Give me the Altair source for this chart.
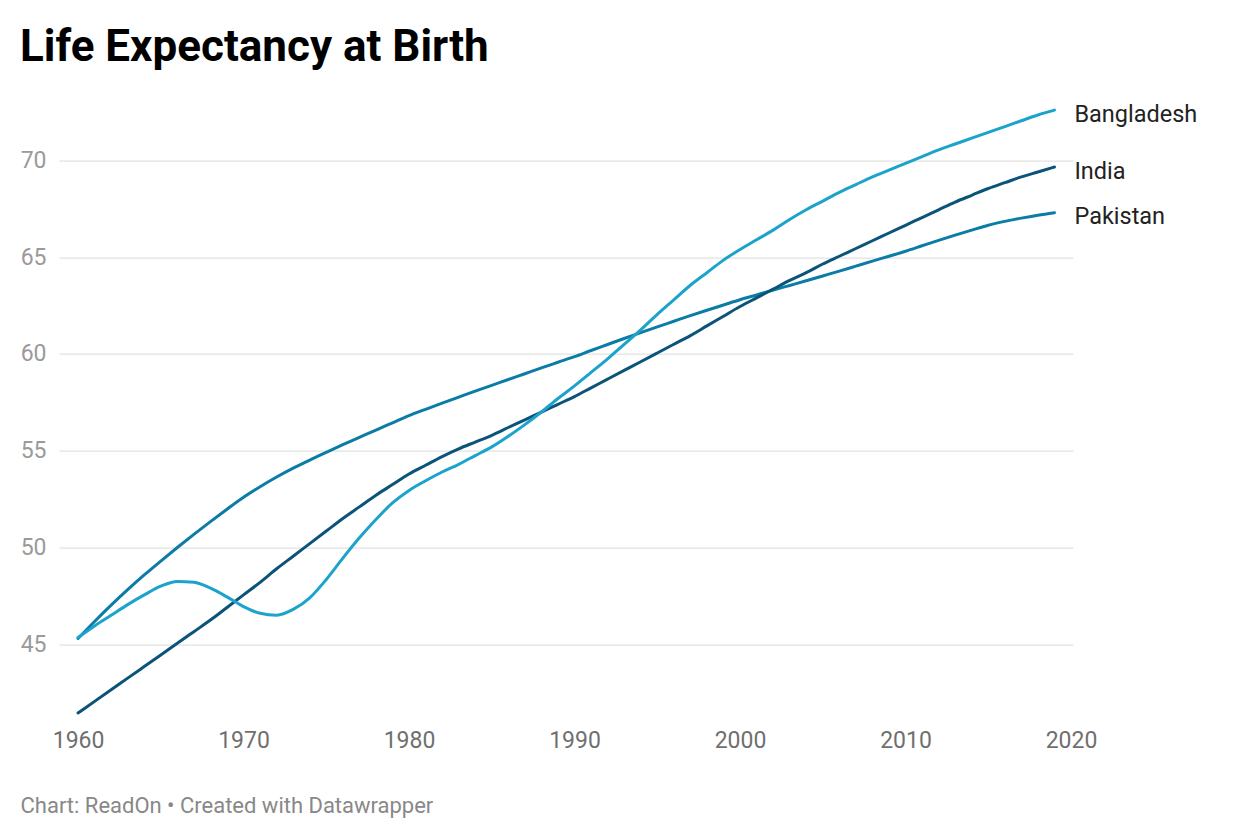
import altair as alt
import pandas as pd

years = list(range(1960, 2020))

bangladesh = [
    45.35, 45.95, 46.5, 47.05, 47.55, 48.0, 48.25, 48.2, 47.9, 47.45,
    46.95, 46.6, 46.5, 46.8, 47.4, 48.35, 49.45, 50.5, 51.45, 52.3,
    52.95, 53.45, 53.9, 54.3, 54.75, 55.2, 55.75, 56.35, 57.0, 57.7,
    58.35, 59.05, 59.75, 60.5, 61.25, 62.05, 62.8, 63.55, 64.2, 64.85,
    65.4, 65.9, 66.4, 66.95, 67.45, 67.9, 68.35, 68.75, 69.15, 69.5,
    69.85, 70.2, 70.55, 70.85, 71.15, 71.45, 71.75, 72.05, 72.35, 72.6,
]

india = [
    41.45, 42.05, 42.65, 43.25, 43.85, 44.45, 45.05, 45.65, 46.25, 46.9,
    47.55, 48.2, 48.9, 49.55, 50.2, 50.85, 51.5, 52.1, 52.7, 53.25,
    53.8, 54.25, 54.7, 55.1, 55.45, 55.8, 56.2, 56.6, 57.0, 57.4,
    57.8, 58.25, 58.7, 59.15, 59.6, 60.05, 60.5, 60.95, 61.45, 61.95,
    62.45, 62.9, 63.35, 63.8, 64.2, 64.65, 65.05, 65.45, 65.85, 66.25,
    66.65, 67.05, 67.45, 67.85, 68.2, 68.55, 68.85, 69.15, 69.4, 69.66,
]

pakistan = [
    45.3, 46.18, 47.02, 47.82, 48.58, 49.3, 50.0, 50.68, 51.34, 51.98,
    52.6, 53.14, 53.64, 54.1, 54.52, 54.92, 55.31, 55.69, 56.07, 56.44,
    56.81, 57.14, 57.46, 57.77, 58.08, 58.38, 58.68, 58.98, 59.28, 59.57,
    59.86, 60.18, 60.49, 60.8, 61.1, 61.4, 61.69, 61.98, 62.26, 62.53,
    62.8, 63.05, 63.3, 63.54, 63.78, 64.03, 64.28, 64.54, 64.8, 65.05,
    65.31, 65.59, 65.87, 66.14, 66.4, 66.65, 66.85, 67.02, 67.17, 67.3,
]

countries = ["Pakistan", "India", "Bangladesh"]
colors = ["#0a7ca6", "#0b5479", "#1ca3cc"]
x_ticks = [1960, 1970, 1980, 1990, 2000, 2010, 2020]
y_ticks = [45, 50, 55, 60, 65, 70]

rows = []
for name, vals in zip(countries, [pakistan, india, bangladesh]):
    for yr, v in zip(years, vals):
        rows.append({"year": yr, "value": v, "country": name})
df = pd.DataFrame(rows)
last = df[df["year"] == years[-1]]

x_enc = alt.X(
    "year:Q",
    scale=alt.Scale(domain=[1958.85, 2020.12], nice=False, zero=False),
    axis=alt.Axis(
        values=x_ticks, format="d", grid=False, ticks=False, domain=False,
        labelFont="Roboto", labelFontSize=23, labelColor="#6f6f6f",
        labelPadding=8, labelFlush=False,
        title="Chart: ReadOn • Created with Datawrapper",
        titleFont="Roboto", titleFontSize=22, titleFontWeight="normal",
        titleColor="#888888", titleX=-39, titleY=91, titleAlign="left",
        titleBaseline="alphabetic", titleAngle=0,
    ),
)
y_enc = alt.Y(
    "value:Q",
    scale=alt.Scale(domain=[41, 73.5], nice=False, zero=False),
    axis=alt.Axis(
        values=y_ticks, grid=True, ticks=False, domain=False,
        gridColor="#e2e2e2", gridWidth=1.2,
        labelFont="Roboto", labelFontSize=23, labelColor="#9a9a9a",
        labelPadding=13, title=None,
    ),
)
color_enc = alt.Color(
    "country:N",
    scale=alt.Scale(domain=countries, range=colors),
    legend=None,
)

lines = alt.Chart(df).mark_line(strokeWidth=3, strokeCap="round", interpolate="monotone").encode(
    x=x_enc, y=y_enc, color=color_enc, detail="country:N"
)

labels = alt.Chart(last).mark_text(
    align="left", baseline="alphabetic", dx=20, dy=11.5,
    font="Roboto", fontSize=23.5, color="#222222"
).encode(
    x=alt.X("year:Q"), y=alt.Y("value:Q"), text="country:N"
)

chart = alt.layer(lines, labels).properties(
    width=1014,
    height=629,
    autosize="none",
    padding={"left": 59, "top": 92.7, "right": 167, "bottom": 118},
    title=alt.TitleParams(
        "Life Expectancy at Birth", anchor="start", font="Roboto",
        fontSize=44, fontWeight="bold", color="#000000", offset=23,
    ),
).configure(background="white").configure_view(stroke=None)

chart.save("out.html", embed_options={"renderer": "svg", "actions": False})
